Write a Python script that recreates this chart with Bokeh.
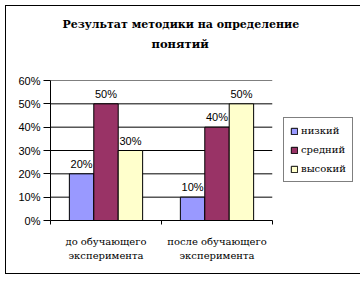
from bokeh.plotting import figure
from bokeh.models import Range1d, FixedTicker, NumeralTickFormatter, Legend, LegendItem, ColumnDataSource, Title
from bokeh.core.properties import value
from bokeh.embed import file_html
from bokeh.resources import INLINE

title_line1 = "Результат методики на определение"
title_line2 = "понятий"
categories = ["до обучающего\nэксперимента", "после обучающего\nэксперимента"]
series = ["низкий", "средний", "высокий"]
low = [0.20, 0.10]
mid = [0.50, 0.40]
high = [0.30, 0.50]
colors = ["#9999FF", "#993366", "#FFFFCC"]
y_ticks = [0.0, 0.1, 0.2, 0.3, 0.4, 0.5, 0.6]

values = [low, mid, high]
centers = [0.5 + i for i in range(len(categories))]
bar_w = 0.22
offsets = [-bar_w, 0.0, bar_w]

SANS = "Liberation Sans"
SERIF = "DejaVu Serif"

p = figure(frame_width=222, frame_height=140,
           x_range=Range1d(0, len(categories)), y_range=Range1d(0, 0.6),
           output_backend="svg", toolbar_location=None,
           min_border_left=44, min_border_right=82, min_border_top=74, min_border_bottom=53)
p.styles = {"border": "1px solid black"}
p.margin = (5, 0, 0, 5)
p.outline_line_color = None
p.background_fill_color = "white"
p.border_fill_color = "white"

# title: p.title is outermost; added titles stack outward from the frame in order
p.title.text = title_line1
p.title.align = "left"
p.title.offset = 12
p.title.standoff = 6
p.title.text_font = SERIF
p.title.text_font_style = "bold"
p.title.text_font_size = "11px"
p.title.text_color = "black"
spacer = Title(text=" ", standoff=16, text_font=SERIF, text_font_size="10px")
p.add_layout(spacer, "above")
t2 = Title(text=title_line2, align="left", offset=101, standoff=2,
           text_font=SERIF, text_font_style="bold", text_font_size="11.5px",
           text_color="black")
p.add_layout(t2, "above")

p.xgrid.visible = False
p.ygrid.visible = False
n = len(categories)
# horizontal gridlines, drawn before the bars so the bars cover them
p.multi_line(xs=[[0, n] for _ in y_ticks], ys=[[y, y] for y in y_ticks],
             line_color="black", line_width=1)

items = []
for s, vals, col, off in zip(series, values, colors, offsets):
    src = ColumnDataSource(dict(x=[c + off for c in centers], top=vals,
                                lab=[f"{int(round(v*100))}%" for v in vals]))
    r = p.vbar(x="x", top="top", bottom=0, width=bar_w, source=src,
               fill_color=col, line_color="black", line_width=1)
    p.text(x="x", y="top", text="lab", source=src, text_align="center",
           text_baseline="bottom", y_offset=-4, text_font=value(SANS),
           text_font_size="11px", text_color="black")
    items.append(LegendItem(label=s, renderers=[r]))

legend = Legend(items=items, location=(11, 38))
legend.border_line_color = "black"
legend.border_line_width = 1
legend.background_fill_color = "white"
legend.background_fill_alpha = 1
legend.glyph_width = 8
legend.glyph_height = 8
legend.label_standoff = 3
legend.label_height = 13
legend.spacing = 6
legend.padding = 6
legend.margin = 0
legend.label_text_font = SERIF
legend.label_text_font_size = "10px"
legend.label_text_color = "black"
p.add_layout(legend, "right")

yax = p.yaxis[0]
yax.ticker = FixedTicker(ticks=y_ticks)
yax.formatter = NumeralTickFormatter(format="0%")
yax.major_tick_out = 7
yax.major_tick_in = 0
yax.minor_tick_line_color = None
yax.major_label_standoff = 3
yax.major_label_text_font = SANS
yax.major_label_text_font_size = "11px"
yax.major_label_text_color = "black"
yax.axis_line_color = "black"
yax.major_tick_line_color = "black"

xax = p.xaxis[0]
xax.ticker = FixedTicker(ticks=centers, minor_ticks=[float(i) for i in range(n + 1)])
xax.major_label_overrides = {c: lab for c, lab in zip(centers, categories)}
xax.major_tick_out = 0
xax.major_tick_in = 0
xax.major_tick_line_color = None
xax.minor_tick_out = 4
xax.minor_tick_in = 0
xax.minor_tick_line_color = "black"
xax.major_label_standoff = 11
xax.major_label_text_font = SERIF
xax.major_label_text_font_size = "10px"
xax.major_label_text_line_height = 1.35
xax.major_label_text_color = "black"
xax.axis_line_color = "black"

open("out.html", "w").write(file_html(p, INLINE))
